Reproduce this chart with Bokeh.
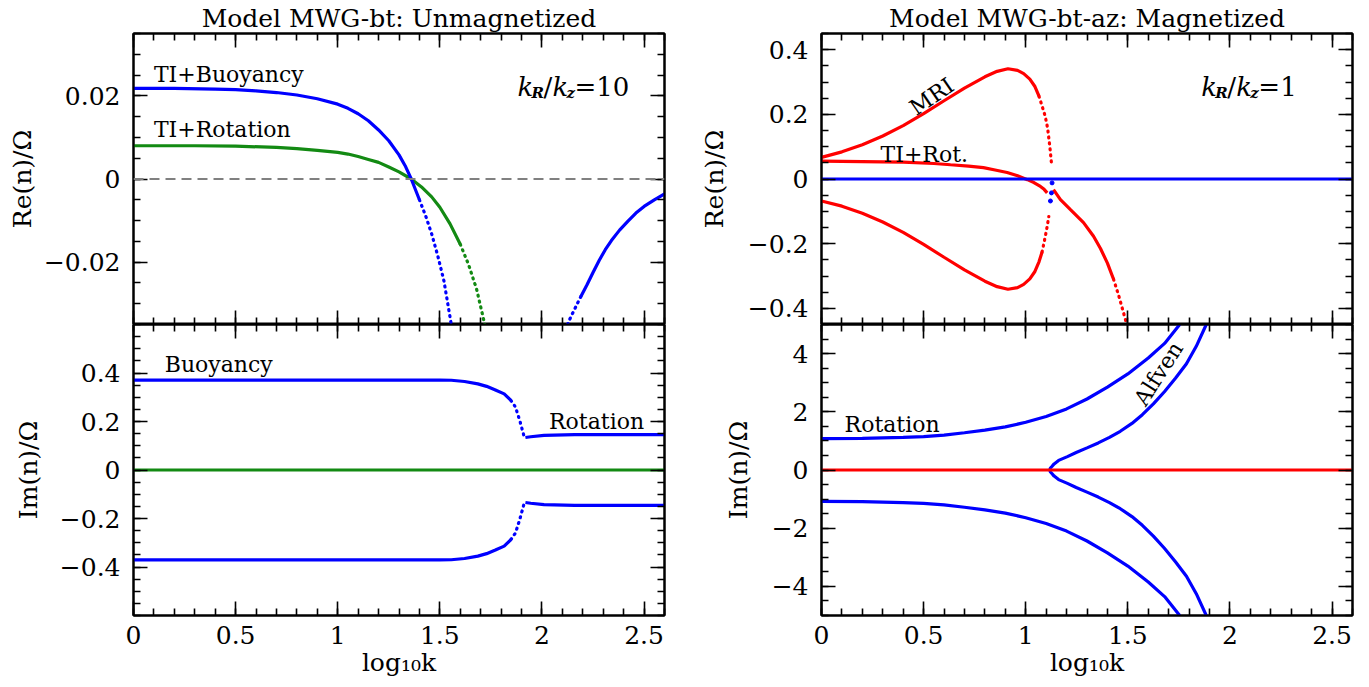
import numpy as np
from bokeh.plotting import figure
from bokeh.models import (LinearAxis, FixedTicker, CustomJSTickFormatter, Range1d,
                          Label, Span)
from bokeh.layouts import row, column
from bokeh.embed import file_html
from bokeh.resources import INLINE

# ------------------------------------------------------------------ data
x_ticks = [0, 0.5, 1, 1.5, 2, 2.5]
tl_yticks = [-0.02, 0, 0.02]
tr_yticks = [-0.4, -0.2, 0, 0.2, 0.4]
bl_yticks = [-0.4, -0.2, 0, 0.2, 0.4]
br_yticks = [-4, -2, 0, 2, 4]

titles = ["Model MWG-bt: Unmagnetized", "Model MWG-bt-az: Magnetized"]

# top-left: Re(n)/Omega, unmagnetized, kR/kz = 10
tl_buoy_x = [0.0, 0.2, 0.4, 0.5, 0.6, 0.7, 0.8, 0.9, 1.0, 1.05, 1.1, 1.15, 1.2, 1.25, 1.3,
             1.33, 1.36, 1.4, 1.43, 1.46, 1.49, 1.52, 1.556]
tl_buoy_y = [0.0218, 0.0218, 0.0216, 0.0215, 0.0212, 0.0208, 0.0202, 0.0193, 0.0180, 0.0170,
             0.0157, 0.0140, 0.0118, 0.0092, 0.0058, 0.0032, 0.0, -0.0050, -0.0088, -0.0132,
             -0.0185, -0.0245, -0.035]
tl_buoy2_x = [2.125, 2.14, 2.16, 2.19, 2.22, 2.25, 2.28, 2.31, 2.34, 2.38, 2.42, 2.46, 2.5,
              2.55, 2.6]
tl_buoy2_y = [-0.035, -0.0333, -0.0313, -0.0283, -0.0255, -0.0225, -0.0196, -0.0170, -0.0148,
              -0.0123, -0.0102, -0.0082, -0.0066, -0.0050, -0.0036]
tl_rot_x = [0.0, 0.3, 0.5, 0.7, 0.8, 0.9, 1.0, 1.05, 1.1, 1.15, 1.2, 1.25, 1.3, 1.36, 1.41,
            1.46, 1.5, 1.55, 1.6, 1.64, 1.68, 1.72]
tl_rot_y = [0.0080, 0.0080, 0.0079, 0.0076, 0.0073, 0.0069, 0.0064, 0.0060, 0.0054, 0.0047,
            0.0040, 0.0029, 0.0017, 0.0, -0.0019, -0.0043, -0.0068, -0.0108, -0.0157,
            -0.0205, -0.0265, -0.035]

# top-right: Re(n)/Omega, magnetized, kR/kz = 1
tr_mri_x = [0.0, 0.1, 0.2, 0.3, 0.4, 0.5, 0.6, 0.7, 0.8, 0.86, 0.913, 0.96, 0.99, 1.02,
            1.045, 1.065, 1.08, 1.095, 1.107, 1.118, 1.126]
tr_mri_y = [0.067, 0.084, 0.106, 0.133, 0.165, 0.202, 0.242, 0.281, 0.316, 0.333, 0.341,
            0.336, 0.326, 0.309, 0.286, 0.256, 0.226, 0.195, 0.158, 0.1, 0.049]
tr_mrin_x = [0.0, 0.1, 0.2, 0.3, 0.4, 0.5, 0.6, 0.7, 0.8, 0.86, 0.913, 0.96, 0.99, 1.02,
             1.045, 1.065, 1.08, 1.095, 1.105, 1.113]
tr_mrin_y = [-0.068, -0.084, -0.106, -0.133, -0.165, -0.202, -0.242, -0.281, -0.316, -0.333,
             -0.341, -0.336, -0.326, -0.309, -0.286, -0.256, -0.226, -0.18, -0.147, -0.116]
tr_tirot_x = [0.0, 0.2, 0.4, 0.55, 0.632, 0.72, 0.793, 0.85, 0.909, 0.96, 1.008, 1.04, 1.072,
              1.09, 1.105]
tr_tirot_y = [0.055, 0.054, 0.052, 0.048, 0.044, 0.040, 0.035, 0.028, 0.020, 0.010, -0.002,
              -0.011, -0.023, -0.032, -0.043]
tr_tirot2_x = [1.136, 1.17, 1.219, 1.283, 1.332, 1.366, 1.40, 1.43, 1.455, 1.475, 1.495]
tr_tirot2_y = [-0.033, -0.064, -0.095, -0.135, -0.177, -0.215, -0.26, -0.31, -0.36, -0.405,
               -0.45]
tr_zero_x = [0.0, 2.6]
tr_zero_y = [0.0, 0.0]
tr_dip_x = [1.121, 1.126, 1.129]
tr_dip_y = [-0.068, -0.043, -0.012]

# bottom-left: Im(n)/Omega, unmagnetized
bl_x = [0.0, 0.5, 1.0, 1.5, 1.556, 1.621, 1.686, 1.729, 1.772, 1.815, 1.848, 1.87, 1.891,
        1.902, 1.913, 1.919, 1.945, 2.01, 2.16, 2.6]
bl_up_y = [0.371, 0.371, 0.371, 0.371, 0.370, 0.365, 0.355, 0.345, 0.330, 0.314, 0.287, 0.26,
           0.205, 0.171, 0.137, 0.134, 0.137, 0.143, 0.146, 0.146]
bl_lo_y = [-0.371, -0.371, -0.371, -0.371, -0.370, -0.365, -0.355, -0.345, -0.330, -0.314,
           -0.287, -0.26, -0.205, -0.171, -0.137, -0.134, -0.137, -0.143, -0.146, -0.146]
bl_zero_x = [0.0, 2.6]
bl_zero_y = [0.0, 0.0]

# bottom-right: Im(n)/Omega, magnetized
br_rot_x = [0.0, 0.2, 0.4, 0.5, 0.6, 0.7, 0.8, 0.9, 1.0, 1.1, 1.2, 1.3, 1.4, 1.5, 1.6, 1.68,
            1.754]
br_rot_up_y = [1.076, 1.09, 1.12, 1.15, 1.2, 1.28, 1.37, 1.48, 1.64, 1.84, 2.1, 2.44, 2.85,
               3.3, 3.85, 4.35, 5.0]
br_rot_lo_y = [-1.076, -1.09, -1.12, -1.15, -1.2, -1.28, -1.37, -1.48, -1.64, -1.84, -2.1,
               -2.44, -2.85, -3.3, -3.85, -4.35, -5.0]
br_alf_x = [1.118, 1.12, 1.128, 1.139, 1.161, 1.204, 1.247, 1.3, 1.355, 1.41, 1.463, 1.52,
            1.571, 1.625, 1.679, 1.733, 1.787, 1.835, 1.884]
br_alf_up_y = [0.0, 0.06, 0.12, 0.21, 0.33, 0.46, 0.6, 0.76, 0.93, 1.12, 1.33, 1.6, 1.9, 2.27,
               2.69, 3.15, 3.65, 4.25, 5.0]
br_alf_lo_y = [0.0, -0.06, -0.12, -0.21, -0.33, -0.46, -0.6, -0.76, -0.93, -1.12, -1.33, -1.6,
               -1.9, -2.27, -2.69, -3.15, -3.65, -4.25, -5.0]
br_zero_x = [0.0, 2.6]
br_zero_y = [0.0, 0.0]

# ------------------------------------------------------------------ style
FONT = "DejaVu Serif"
INK = "black"
BLUE = "#0000ff"
GREEN = "#138a13"
RED = "#ff0000"
LW = 3.2
FW, FH = 531, 291

fmt = CustomJSTickFormatter(code="""
const v = Math.round(tick*10000)/10000;
if (v === 0) return "0";
return (v < 0 ? "\u2212" : "") + Math.abs(v).toString();
""")


def minor(lo, hi, step):
    return [float(v) for v in np.round(np.arange(lo, hi + step / 2, step), 4)]


def make_fig(yr, yticks, yminor, ylabel, left, right, top, bottom, ylab_standoff,
             title=None, xlabels=False):
    p = figure(frame_width=FW, frame_height=FH, x_range=Range1d(0, 2.6),
               y_range=Range1d(-yr, yr), output_backend="svg", toolbar_location=None,
               min_border_left=left, min_border_right=right, min_border_top=top,
               min_border_bottom=bottom, x_axis_location=None, y_axis_location=None,
               background_fill_color="white", border_fill_color="white")
    p.grid.visible = False
    p.outline_line_color = INK
    p.outline_line_width = 2
    xt = FixedTicker(ticks=x_ticks, minor_ticks=minor(0, 2.6, 0.1))
    yt = FixedTicker(ticks=yticks, minor_ticks=yminor)

    def style(ax, labels):
        ax.axis_line_width = 2
        ax.axis_line_color = INK
        ax.major_tick_line_color = INK
        ax.minor_tick_line_color = INK
        ax.major_tick_in = 14
        ax.major_tick_out = 0
        ax.minor_tick_in = 7
        ax.minor_tick_out = 0
        ax.major_tick_line_width = 1.6
        ax.minor_tick_line_width = 1.6
        if labels:
            ax.major_label_text_font = FONT
            ax.major_label_text_font_size = "25px"
            ax.major_label_text_color = INK
            ax.major_label_standoff = 13
            ax.formatter = fmt
            ax.axis_label_text_font = FONT
            ax.axis_label_text_font_size = "25px"
            ax.axis_label_text_font_style = "normal"
            ax.axis_label_text_color = INK
        else:
            ax.major_label_text_font_size = "0px"
            ax.major_label_text_color = None
            ax.major_label_standoff = 0

    ly = LinearAxis(ticker=yt, axis_label=ylabel)
    style(ly, True)
    ly.axis_label_standoff = ylab_standoff
    p.add_layout(ly, "left")
    ry = LinearAxis(ticker=yt)
    style(ry, False)
    p.add_layout(ry, "right")
    bx = LinearAxis(ticker=xt, axis_label="log\u2081\u2080k" if xlabels else None)
    style(bx, xlabels)
    if xlabels:
        bx.major_label_standoff = 10
        bx.axis_label_standoff = 1
    p.add_layout(bx, "below")
    tx = LinearAxis(ticker=xt)
    style(tx, False)
    p.add_layout(tx, "above")
    if title:
        p.title.text = title
        p.title.align = "center"
        p.title.text_font = FONT
        p.title.text_font_size = "25px"
        p.title.text_font_style = "normal"
        p.title.text_color = INK
        p.title.standoff = 1
    return p


def curve(p, xs, ys, color, dot_from=None, dot_to=None):
    xs = np.asarray(xs, dtype=float)
    ys = np.asarray(ys, dtype=float)
    if dot_from is None:
        p.line(xs, ys, line_color=color, line_width=LW)
        return
    before = xs <= dot_from
    after = xs >= dot_to
    mid = (xs >= dot_from) & (xs <= dot_to)
    for m in (before, after):
        if m.sum() >= 2:
            p.line(xs[m], ys[m], line_color=color, line_width=LW)
    p.line(xs[mid], ys[mid], line_color=color, line_width=LW, line_dash="1 5",
           line_cap="round")


def text(p, x, y, s, size="22px", align="left", angle=0.0):
    p.add_layout(Label(x=x, y=y, text=s, text_font=FONT, text_font_size=size,
                       text_align=align, text_baseline="middle", angle=angle,
                       text_color=INK))


def kratio(p, x, y, val):
    parts = [("k", 0, 0, "26px", "italic"), ("R", 14, -6, "15px", "bold italic"),
             ("/", 26, 0, "26px", "normal"), ("k", 35, 0, "26px", "italic"),
             ("z", 49, -6, "15px", "bold italic"), ("=" + val, 57, 0, "26px", "normal")]
    for s, dx, dy, sz, st in parts:
        p.add_layout(Label(x=x, y=y, x_offset=dx, y_offset=dy, text=s, text_font=FONT,
                           text_font_size=sz, text_font_style=st, text_color=INK,
                           text_baseline="alphabetic"))


# ------------------------------------------------------------------ panels
LEFT1, RIGHT1, LEFT2, RIGHT2 = 133, 10, 147, 15
TOP, BOTTOM = 33, 70

tl = make_fig(0.035, tl_yticks, minor(-0.035, 0.035, 0.005), "Re(n)/\u03a9",
              LEFT1, RIGHT1, TOP, 0, 4, title=titles[0])
tl.add_layout(Span(location=0, dimension="width", line_color="#808080", line_width=2,
                   line_dash="10 6"))
curve(tl, tl_rot_x, tl_rot_y, GREEN, 1.6, 1.72)
curve(tl, tl_buoy_x, tl_buoy_y, BLUE, 1.4, 1.556)
curve(tl, tl_buoy2_x, tl_buoy2_y, BLUE, 2.125, 2.19)
text(tl, 0.1, 0.0252, "TI+Buoyancy")
text(tl, 0.1, 0.0119, "TI+Rotation")
kratio(tl, 1.88, 0.0221, "10")

tr = make_fig(0.45, tr_yticks, minor(-0.45, 0.45, 0.05), "Re(n)/\u03a9",
              LEFT2, RIGHT2, TOP, 0, 16, title=titles[1])
curve(tr, tr_mri_x, tr_mri_y, RED, 1.065, 1.126)
curve(tr, tr_mrin_x, tr_mrin_y, RED, 1.08, 1.113)
curve(tr, tr_tirot_x, tr_tirot_y, RED)
curve(tr, tr_tirot2_x, tr_tirot2_y, RED, 1.43, 1.495)
curve(tr, tr_zero_x, tr_zero_y, BLUE)
tr.scatter(tr_dip_x, tr_dip_y, size=4, color=BLUE)
text(tr, 0.54, 0.255, "MRI", align="center", angle=0.6)
text(tr, 0.289, 0.077, "TI+Rot.")
kratio(tr, 1.86, 0.283, "1")

bl = make_fig(0.6, bl_yticks, minor(-0.6, 0.6, 0.05), "Im(n)/\u03a9",
              LEFT1, RIGHT1, 0, BOTTOM, 14, xlabels=True)
curve(bl, bl_x, bl_up_y, BLUE, 1.848, 1.919)
curve(bl, bl_x, bl_lo_y, BLUE, 1.848, 1.919)
curve(bl, bl_zero_x, bl_zero_y, GREEN)
text(bl, 0.153, 0.437, "Buoyancy")
text(bl, 2.5, 0.198, "Rotation", align="right")

br = make_fig(5, br_yticks, minor(-5, 5, 0.5), "Im(n)/\u03a9",
              LEFT2, RIGHT2, 0, BOTTOM, 16, xlabels=True)
curve(br, br_rot_x, br_rot_up_y, BLUE)
curve(br, br_rot_x, br_rot_lo_y, BLUE)
curve(br, br_alf_x, br_alf_up_y, BLUE)
curve(br, br_alf_x, br_alf_lo_y, BLUE)
curve(br, br_zero_x, br_zero_y, RED)
text(br, 0.113, 1.56, "Rotation")
text(br, 1.65, 3.31, "Alfven", align="center", angle=1.0)

layout = column(row(tl, tr), row(bl, br))
with open("out.html", "w") as f:
    f.write(file_html(layout, INLINE))
